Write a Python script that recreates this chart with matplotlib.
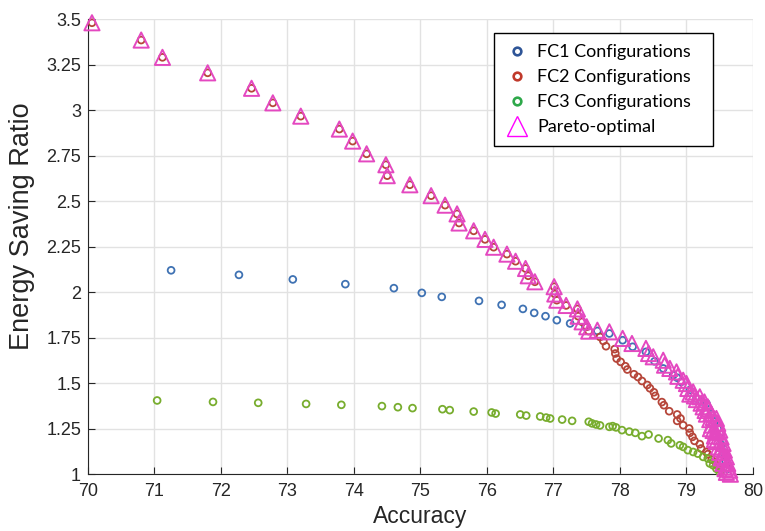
import matplotlib

matplotlib.use('Agg')

import matplotlib.pyplot as plt
from matplotlib.lines import Line2D

# FC1 configurations (blue)
fc1_acc = [71.25, 72.27, 73.08, 73.87, 74.60, 75.02, 75.32, 75.88, 76.22, 76.54,
           76.71, 76.88, 77.05, 77.25, 77.48, 77.66, 77.84, 78.04, 78.19, 78.39,
           78.52, 78.65, 78.80, 78.86, 78.92, 79.05, 79.15, 79.22, 79.30, 79.37,
           79.42, 79.47, 79.50, 79.53, 79.56, 79.59, 79.62]
fc1_esr = [2.12, 2.095, 2.07, 2.044, 2.022, 1.996, 1.974, 1.952, 1.93, 1.908,
           1.886, 1.868, 1.846, 1.828, 1.81, 1.787, 1.773, 1.736, 1.70, 1.672,
           1.62, 1.581, 1.544, 1.53, 1.507, 1.462, 1.416, 1.40, 1.388, 1.33,
           1.29, 1.25, 1.20, 1.16, 1.12, 1.07, 1.03]

# FC2 configurations (red)
fc2_acc = [70.06, 70.80, 71.12, 71.80, 72.46, 72.78, 73.20, 73.78, 73.98, 74.19,
           74.48, 74.50, 74.84, 75.16, 75.37, 75.55, 75.58, 75.80, 75.97, 76.10,
           76.30, 76.43, 76.58, 76.62, 76.72, 77.01, 77.02, 77.05, 77.19, 77.36,
           77.37, 77.43, 77.50, 77.53,
           77.70, 77.75, 77.79, 77.92, 77.93, 77.95, 78.01, 78.08, 78.11, 78.21,
           78.27, 78.33, 78.41, 78.45, 78.51, 78.53, 78.63, 78.66, 78.74, 78.86,
           78.91, 78.86, 78.95, 79.04, 79.05, 79.09, 79.12, 79.20, 79.22, 79.30,
           79.32, 79.38, 79.45, 79.52]
fc2_esr = [3.48, 3.385, 3.29, 3.205, 3.12, 3.04, 2.967, 2.896, 2.83, 2.76,
           2.70, 2.64, 2.59, 2.53, 2.478, 2.43, 2.38, 2.337, 2.29, 2.247,
           2.209, 2.17, 2.13, 2.09, 2.057, 2.03, 1.99, 1.956, 1.927, 1.908,
           1.868, 1.837, 1.81, 1.786,
           1.754, 1.732, 1.703, 1.687, 1.663, 1.635, 1.617, 1.593, 1.575, 1.549,
           1.534, 1.512, 1.49, 1.472, 1.45, 1.43, 1.396, 1.379, 1.346, 1.328,
           1.306, 1.293, 1.269, 1.251, 1.227, 1.205, 1.183, 1.165, 1.141, 1.122,
           1.11, 1.08, 1.05, 1.02]

# FC3 configurations (green)
fc3_acc = [71.04, 71.88, 72.56, 73.28, 73.81, 74.42, 74.66, 74.88, 75.33, 75.44,
           75.80, 76.07, 76.13, 76.50, 76.59, 76.80, 76.89, 76.95, 77.13, 77.28,
           77.53, 77.58, 77.64, 77.70, 77.84, 77.89, 77.94, 78.03, 78.14, 78.23,
           78.33, 78.43, 78.58, 78.72, 78.77, 78.90, 78.95, 79.02, 79.10, 79.17,
           79.25, 79.32, 79.35, 79.40, 79.45, 79.50]
fc3_esr = [1.405, 1.397, 1.392, 1.386, 1.381, 1.374, 1.368, 1.363, 1.357, 1.352,
           1.344, 1.339, 1.333, 1.328, 1.322, 1.317, 1.311, 1.306, 1.30, 1.293,
           1.288, 1.279, 1.273, 1.268, 1.26, 1.264, 1.257, 1.242, 1.234, 1.227,
           1.209, 1.218, 1.196, 1.187, 1.169, 1.159, 1.15, 1.132, 1.122, 1.113,
           1.095, 1.086, 1.059, 1.049, 1.03, 1.01]

# Pareto-optimal points
par_acc = [70.06, 70.80, 71.12, 71.80, 72.46, 72.78, 73.20, 73.78, 73.98, 74.19,
           74.48, 74.50, 74.84, 75.16, 75.37, 75.55, 75.58, 75.80, 75.97, 76.10,
           76.30, 76.43, 76.58, 76.62, 76.72, 77.01, 77.02, 77.05, 77.19, 77.36,
           77.37, 77.43, 77.50, 77.53,
           77.66, 77.84, 78.04, 78.18, 78.39, 78.43, 78.50, 78.65, 78.67, 78.75,
           78.85, 78.87, 78.95, 79.00, 79.02, 79.10, 79.20, 79.27, 79.32, 79.37,
           79.45, 79.47, 79.50, 79.52, 79.55, 79.57, 79.60, 79.62, 79.65, 79.66,
           79.05, 79.15, 79.25, 79.30, 79.35, 79.38, 79.40, 79.42, 79.45, 79.48,
           79.50, 79.52, 79.55, 79.58, 79.60, 79.28, 79.44, 79.52, 79.58, 79.62,
           79.12, 79.22, 79.33, 79.40, 79.47, 79.36, 79.42, 79.55]
par_esr = [3.48, 3.385, 3.29, 3.205, 3.12, 3.04, 2.967, 2.896, 2.83, 2.76,
           2.70, 2.64, 2.59, 2.53, 2.478, 2.43, 2.38, 2.337, 2.29, 2.247,
           2.209, 2.17, 2.13, 2.09, 2.057, 2.03, 1.99, 1.956, 1.927, 1.908,
           1.868, 1.837, 1.81, 1.786,
           1.791, 1.782, 1.746, 1.718, 1.691, 1.663, 1.645, 1.626, 1.599, 1.581,
           1.562, 1.538, 1.516, 1.498, 1.471, 1.452, 1.425, 1.397, 1.370, 1.334,
           1.306, 1.279, 1.242, 1.205, 1.169, 1.132, 1.095, 1.059, 1.022, 1.0,
           1.44, 1.41, 1.37, 1.33, 1.30, 1.27, 1.24, 1.21, 1.18, 1.15,
           1.12, 1.09, 1.06, 1.03, 1.01, 1.35, 1.23, 1.14, 1.08, 1.04,
           1.43, 1.39, 1.36, 1.31, 1.26, 1.25, 1.19, 1.10]

x_ticks = [70, 71, 72, 73, 74, 75, 76, 77, 78, 79, 80]
y_ticks = [1, 1.25, 1.5, 1.75, 2, 2.25, 2.5, 2.75, 3, 3.25, 3.5]
y_tick_labels = ['1', '1.25', '1.5', '1.75', '2', '2.25', '2.5', '2.75', '3', '3.25', '3.5']

c_fc1 = '#3f72b3'
c_fc2 = '#b6463a'
c_fc3 = '#78ad2e'
c_par = '#e448c0'

plt.rcParams['font.family'] = ['Liberation Sans', 'DejaVu Sans']

fig = plt.figure(figsize=(7.65, 5.31), dpi=100)
ax = fig.add_axes([0.115, 0.107, 0.8693, 0.857])

kw = dict(marker='o', facecolors='none', s=24, linewidths=1.3, clip_on=False)
ax.scatter(fc1_acc, fc1_esr, edgecolors=c_fc1, zorder=3, **kw)
ax.scatter(fc2_acc, fc2_esr, edgecolors=c_fc2, zorder=3, **kw)
ax.scatter(fc3_acc, fc3_esr, edgecolors=c_fc3, zorder=3, **kw)
ax.scatter(par_acc, par_esr, marker='^', facecolors='none', edgecolors=c_par,
           s=120, linewidths=1.4, zorder=4, clip_on=False)

ax.set_xlim(70, 80)
ax.set_ylim(1, 3.5)
ax.set_xticks(x_ticks)
ax.set_yticks(y_ticks)
ax.set_yticklabels(y_tick_labels)
ax.tick_params(direction='in', length=5, width=0.8, colors='#262626',
               labelsize=13)
ax.tick_params(axis='x', pad=6)
ax.tick_params(axis='y', pad=5)
ax.grid(True, color='#e2e2e2', linewidth=1.0)
ax.set_axisbelow(True)
for side in ['top', 'right']:
    ax.spines[side].set_visible(False)
for side in ['left', 'bottom']:
    ax.spines[side].set_color('#262626')
    ax.spines[side].set_linewidth(0.8)

ax.set_xlabel('Accuracy', fontsize=16.5, color='#262626', labelpad=4)
ax.set_ylabel('Energy Saving Ratio', fontsize=19.5, color='#262626', labelpad=4)
ax.yaxis.set_label_coords(-0.08, 0.544)

handles = [
    Line2D([], [], ls='none', marker='o', mfc='none', mec='#2f5597', mew=1.9, ms=5.5),
    Line2D([], [], ls='none', marker='o', mfc='none', mec='#c0392b', mew=1.9, ms=5.5),
    Line2D([], [], ls='none', marker='o', mfc='none', mec='#2ea84a', mew=1.9, ms=5.5),
    Line2D([], [], ls='none', marker='^', mfc='none', mec='#ff00ff', mew=1.0, ms=14),
]
labels = ['FC1 Configurations', 'FC2 Configurations', 'FC3 Configurations', 'Pareto-optimal']
leg = ax.legend(handles, labels, loc='upper left', bbox_to_anchor=(0.6105, 0.5, 0.329, 0.469),
                mode='expand', prop={'family': 'Lato', 'size': 13}, frameon=True,
                fancybox=False, edgecolor='black', framealpha=1, handletextpad=0.38,
                borderpad=0.6, labelspacing=0.5, handlelength=1.4, borderaxespad=0)
leg.get_frame().set_linewidth(1.0)

fig.savefig('out.png', dpi=100)
